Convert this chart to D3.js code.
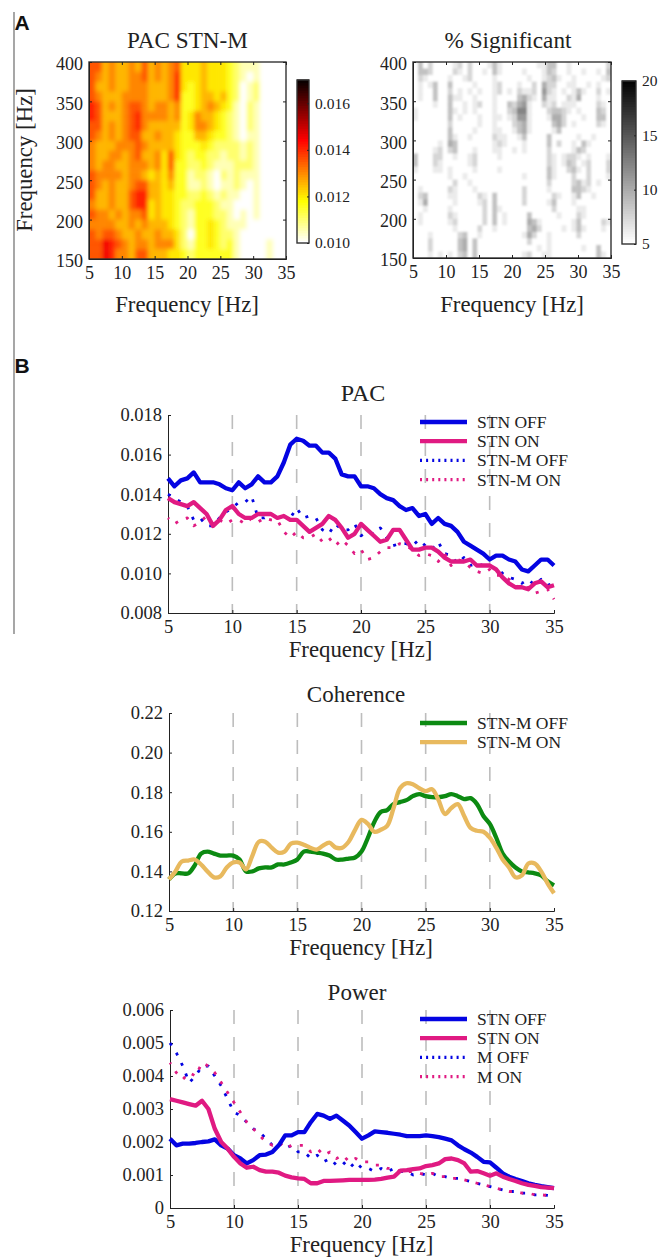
<!DOCTYPE html>
<html lang="en">
<head>
  <meta charset="UTF-8">
  <title>PAC, coherence and power</title>
  <script src="https://d3js.org/d3.v7.min.js"></script>
  <style>
    body { margin: 0; background: #fff; }
    svg { display: block; }
    text { font-family: "Liberation Serif", serif; fill: #222; }
    .panel { font-family: "Liberation Sans", sans-serif; font-weight: bold; font-size: 21px; fill: #111; }
    .tick line, .domain { stroke: #222; }
  </style>
</head>
<body>
  <svg width="659" height="1258"></svg>

  <script>
    // heatmap rows run from 400 Hz down to 150 Hz, one digit per cell
    const pacRows = [
      "775655657565674445444321110000",
      "765655667565684445444321010000",
      "755655666555684345444320120000",
      "765556666555683345545320120000",
      "875656776566563345654310210000",
      "875556786666563465543210210000",
      "775656786555553466543210210000",
      "765656775565543355433210110000",
      "655566676555543334322221210000",
      "655665675564743233221221210000",
      "656655666564733223211122210000",
      "766665665454633122102121110000",
      "765655677554533112101121010000",
      "755655788554433223212110010000",
      "655655788454432233321100010000",
      "766565667454432133322101010000",
      "666655656555432133432111000000",
      "767765565565542033432210000000",
      "779876566566642133432310000100",
      "779866577555443233333310000100"
    ];
    const sigRows = [
      "0302000012020001310000000113300100000002",
      "0332000021020010310000100013200100100103",
      "0210000100120000100000010012310010000012",
      "0101300300001000120001002042200110010100",
      "0100300201010100120102112052101013100201",
      "0100300311001000100003421041100214000100",
      "0000100300101200100324510021201110000210",
      "1000000310101000100236610002332101000320",
      "1000000301000100110125510001442000100330",
      "0000000200000100100023410000342010000210",
      "0000000300001000110013410000130000000000",
      "0000000310010000211001300003000001001000",
      "0000010430000000121000100003020010310000",
      "0000120230001000110010100002000013200000",
      "3000220010012000010000000002101221010001",
      "3000210000012000000000000002101320120002",
      "1000110100001000010000000003100231020002",
      "0000000100100000000000100003100020020001",
      "0000000020010000000000000002000023120100",
      "0100000210001000000000200001000033210000",
      "0230000110000210300000200000210013001000",
      "0140000010000120300000200001300010000000",
      "0010000100000020310000000000200001100000",
      "0100000210000020301000030000010002100000",
      "0100000120000020301000043100000013000021",
      "0000000010000200100000034200001013100010",
      "0001000002300100000000142001000002000000",
      "0002000003403000000000020001000000000000",
      "0002000003403000000000000101000000100300",
      "0001010102303000000000120011000000000310"
    ];

    const pacOff = [.0148,.0144,.0147,.0148,.0151,.0146,.0146,.0146,.0145,.0143,.0142,.0146,.0143,.0145,.0149,.0146,.0146,.0149,.0156,.0165,.0168,.0167,.01645,.01645,.0161,.0161,.0158,.015,.0149,.0149,.0144,.0144,.0143,.014,.0138,.0137,.0134,.0132,.0133,.0129,.013,.0125,.0128,.0125,.0124,.0121,.0116,.0114,.0112,.011,.0107,.0109,.0109,.0107,.0106,.0102,.0101,.0104,.0107,.0107,.0104];
    const pacOn = [.0138,.0136,.0135,.0134,.0136,.0133,.013,.0124,.0127,.0132,.0134,.013,.0128,.0128,.013,.013,.013,.0128,.0129,.0127,.0127,.0124,.0121,.0123,.0125,.0129,.0127,.0123,.0118,.012,.0125,.0122,.0119,.0116,.0117,.0122,.0122,.0117,.0112,.0112,.0113,.0113,.0111,.0108,.0106,.0106,.0106,.0107,.0104,.0104,.0104,.0102,.0098,.0095,.0093,.0093,.0092,.0095,.0096,.0093,.0094];
    const pacMOff = [.014,.0138,.0136,.0134,.0127,.0128,.0124,.0124,.0128,.0131,.0133,.0136,.0136,.0139,.0128,.0128,.013,.0128,.0129,.0128,.0133,.0128,.0129,.0128,.0122,.012,.0125,.0122,.0122,.0125,.0119,.0121,.012,.0123,.0118,.0114,.0115,.0115,.0114,.0117,.0114,.0112,.0116,.011,.0109,.0105,.0108,.0104,.0105,.0104,.0103,.0103,.01,.0098,.0097,.0095,.0097,.0094,.0097,.0094,.0095];
    const pacMOn = [.0128,.0125,.0127,.0128,.0124,.0126,.0129,.0125,.0127,.0125,.0127,.0127,.0125,.0128,.0126,.0128,.0127,.0127,.0121,.0118,.0121,.0118,.0118,.012,.0116,.0118,.0114,.0117,.0114,.011,.0112,.0107,.0108,.0111,.0113,.0113,.0115,.0114,.0112,.0109,.011,.0109,.0106,.011,.0104,.0107,.0106,.0103,.0101,.01,.0102,.0099,.0099,.0097,.0094,.0092,.0093,.009,.0091,.0092,.0087];

    const cohOff = [.136,.139,.139,.139,.143,.149,.15,.149,.148,.148,.148,.146,.14,.14,.1415,.142,.142,.1435,.1435,.1445,.146,.15,.15,.1495,.149,.148,.146,.146,.1465,.147,.15,.157,.165,.17,.171,.174,.175,.176,.178,.179,.178,.1775,.1775,.178,.179,.178,.1765,.177,.174,.168,.164,.157,.149,.145,.142,.14,.1395,.139,.138,.135,.133];
    const cohOn = [.136,.14,.145,.1455,.146,.1435,.14,.137,.1375,.142,.1445,.1445,.141,.148,.155,.155,.152,.1495,.15,.154,.1545,.1535,.152,.151,.153,.1545,.152,.152,.155,.161,.166,.164,.16,.161,.163,.172,.182,.1845,.184,.182,.1805,.1815,.176,.169,.172,.174,.168,.162,.1605,.16,.157,.152,.146,.142,.137,.138,.144,.144,.14,.134,.129];

    const powOff = [.0021,.0019,.00195,.00195,.00197,.002,.00202,.00208,.0019,.0018,.0016,.0015,.00135,.00145,.0016,.00162,.0017,.0019,.0022,.0022,.0023,.0023,.0026,.00285,.0028,.0027,.0028,.00265,.0025,.0023,.0021,.0022,.00232,.0023,.00228,.00225,.00222,.00218,.00218,.00218,.0022,.00218,.00215,.0021,.00205,.0019,.00178,.00168,.00155,.0014,.00138,.00122,.00105,.00095,.00088,.00082,.00075,.0007,.00066,.00063,.0006];
    const powOn = [.0033,.00325,.0032,.00315,.0031,.00325,.003,.0024,.002,.0018,.00155,.00135,.00122,.00125,.00115,.0011,.0011,.00107,.00098,.00093,.0009,.00088,.00075,.00075,.00082,.00082,.00083,.00084,.00085,.00085,.00085,.00085,.00086,.00088,.00092,.00095,.00113,.00115,.00118,.0012,.00127,.0013,.00135,.00148,.0015,.00145,.00135,.0011,.00112,.00105,.00098,.00105,.00095,.00088,.00082,.00075,.0007,.00067,.00063,.00062,.0006];
    const powMOff = [.005,.0047,.0043,.0038,.004,.0043,.0043,.004,.0037,.0033,.0029,.0028,.0026,.0024,.0023,.0021,.0019,.002,.0018,.0019,.0017,.0017,.0015,.0016,.0014,.0015,.0013,.0014,.0012,.0014,.0012,.0012,.0011,.0012,.0011,.0012,.0011,.0011,.001,.00105,.001,.00105,.00095,.00095,.0009,.0009,.00085,.0008,.00075,.0007,.00065,.0006,.00055,.0005,.0005,.00045,.00045,.0004,.0004,.00038,.00035];
    const powMOn = [.0044,.0041,.0039,.0041,.004,.0044,.0043,.0041,.0038,.0035,.0032,.0029,.0026,.0024,.0022,.002,.0019,.002,.0018,.0019,.0019,.0019,.0017,.0018,.0016,.0017,.0015,.0016,.0014,.0015,.0014,.0014,.0013,.0013,.0012,.0012,.0011,.0011,.0011,.00105,.001,.00105,.00095,.00095,.0009,.0009,.00085,.0008,.00075,.0007,.00065,.0006,.00055,.0005,.0005,.00045,.00045,.0004,.0004,.00038,.00035];

    const freq = d3.range(5, 35.5, 0.5);
    const xTicks = [5, 10, 15, 20, 25, 30, 35];
    const yTicksHeat = [150, 200, 250, 300, 350, 400];

    const blue = "#0404e2", pink = "#e01a82", green = "#0c8a12", tan = "#e8b95e";

    const svg = d3.select("svg");
    const defs = svg.append("defs");
    defs.append("filter").attr("id", "soft").append("feGaussianBlur").attr("stdDeviation", 2);
    defs.append("filter").attr("id", "softer").append("feGaussianBlur").attr("stdDeviation", 0.8);

    // reversed "hot" map
    const hot = d3.scaleLinear()
      .domain([0, 0.25, 0.625, 1])
      .range(["#ffffff", "#ffff00", "#ff0000", "#000000"]);
    const gray = d3.scaleLinear().domain([0, 1]).range(["#ffffff", "#000000"]);

    function heatmap(o) {
      const x = d3.scaleLinear().domain([5, 35]).range([o.x0, o.x1]);
      const y = d3.scaleLinear().domain([150, 400]).range([o.y1, o.y0]);
      const nCols = o.rows[0].length, nRows = o.rows.length;
      const colX = d3.scaleBand().domain(d3.range(nCols)).range([o.x0, o.x1]);
      const rowY = d3.scaleBand().domain(d3.range(nRows)).range([o.y0, o.y1]);
      const color = v => o.colors((v - o.cMin) / (o.cMax - o.cMin));

      const id = "clip" + o.x0;
      defs.append("clipPath").attr("id", id).append("rect")
        .attr("x", o.x0).attr("y", o.y0).attr("width", o.x1 - o.x0).attr("height", o.y1 - o.y0);

      const cells = [];
      o.rows.forEach((row, r) => row.split("").forEach((c, i) => cells.push({r, i, v: o.value(+c)})));

      // edge cells run past the frame so the blur does not fade at the border
      const pad = 8;
      svg.append("g").attr("clip-path", `url(#${id})`)
        .append("g").attr("filter", `url(#${o.blur})`)
        .selectAll("rect").data(cells).join("rect")
          .attr("x", d => colX(d.i) - (d.i === 0 ? pad : 0))
          .attr("y", d => rowY(d.r) - (d.r === 0 ? pad : 0))
          .attr("width", d => colX.bandwidth() + 0.5 + (d.i === 0 || d.i === nCols - 1 ? pad : 0))
          .attr("height", d => rowY.bandwidth() + 0.5 + (d.r === 0 || d.r === nRows - 1 ? pad : 0))
          .attr("fill", d => color(d.v));

      svg.append("rect")
        .attr("x", o.x0).attr("y", o.y0).attr("width", o.x1 - o.x0).attr("height", o.y1 - o.y0)
        .attr("fill", "none").attr("stroke", "#333").attr("stroke-width", 1.4);

      svg.append("g").attr("transform", `translate(0,${o.y1})`)
        .call(d3.axisBottom(x).tickValues(xTicks).tickFormat(d3.format("d")).tickSize(-3).tickPadding(7))
        .call(tickText, 18);
      svg.append("g").attr("transform", `translate(0,${o.y0})`)
        .call(d3.axisTop(x).tickValues(xTicks).tickFormat("").tickSize(-3))
        .select(".domain").remove();
      svg.append("g").attr("transform", `translate(${o.x0},0)`)
        .call(d3.axisLeft(y).tickValues(yTicksHeat).tickFormat(d3.format("d")).tickSize(-3).tickPadding(6))
        .call(tickText, 18)
        .selectAll("text").attr("dy", "0.44em");
      svg.append("g").attr("transform", `translate(${o.x1},0)`)
        .call(d3.axisRight(y).tickValues(yTicksHeat).tickFormat("").tickSize(-3))
        .select(".domain").remove();

      // colorbar
      const barY = d3.scaleLinear().domain([o.cMin, o.cMax]).range([o.barY1, o.barY0]);
      const steps = d3.range(64).map(i => o.cMin + (o.cMax - o.cMin) * i / 64);
      svg.append("g").selectAll("rect").data(steps).join("rect")
        .attr("x", o.barX0).attr("width", o.barX1 - o.barX0)
        .attr("y", d => barY(d) - (o.barY1 - o.barY0) / 64 - 0.5)
        .attr("height", (o.barY1 - o.barY0) / 64 + 1)
        .attr("fill", d => color(d));
      svg.append("rect")
        .attr("x", o.barX0).attr("y", o.barY0).attr("width", o.barX1 - o.barX0).attr("height", o.barY1 - o.barY0)
        .attr("fill", "none").attr("stroke", "#333").attr("stroke-width", 1.4);
      svg.append("g").attr("transform", `translate(${o.barX1},0)`)
        .call(d3.axisRight(barY).tickValues(o.cTicks).tickFormat(o.cFormat).tickSize(-2).tickPadding(6))
        .call(tickText, 15.5)
        .select(".domain").remove();

      label(o.title, (o.x0 + o.x1) / 2 + o.titleDx, 48, 23.2);
      label("Frequency [Hz]", o.xLabelX, 312, 22.8);
    }

    function tickText(g, size) {
      g.selectAll("text").style("font-size", size + "px").attr("fill", "#222");
    }

    function label(txt, x, y, size) {
      return svg.append("text").attr("x", x).attr("y", y)
        .attr("text-anchor", "middle").style("font-size", size + "px").text(txt);
    }

    function linePlot(o) {
      const x = d3.scaleLinear().domain([5, 35]).range([o.x0, o.x1]);
      const y = d3.scaleLinear().domain(o.yDomain).range([o.y1, o.y0]);

      svg.append("g").selectAll("line").data(xTicks.slice(1, 6)).join("line")
        .attr("x1", x).attr("x2", x).attr("y1", o.y0).attr("y2", o.y1)
        .attr("stroke", "#bdbdbd").attr("stroke-width", 1.6).attr("stroke-dasharray", "14 13");

      svg.append("g").attr("transform", `translate(0,${o.y1})`)
        .call(d3.axisBottom(x).tickValues(xTicks).tickFormat(d3.format("d")).tickSize(-3).tickPadding(7))
        .call(tickText, 18.5);
      svg.append("g").attr("transform", `translate(${o.x0},0)`)
        .call(d3.axisLeft(y).tickValues(o.yTicks).tickFormat(o.yFormat).tickSize(-3).tickPadding(6))
        .call(tickText, 18.5);

      const line = d3.line().x((d, i) => x(freq[i])).y(d => y(d)).curve(o.curve);
      // dotted series go under the solid ones
      const order = o.series.filter(s => s.dotted).concat(o.series.filter(s => !s.dotted));
      order.forEach((s, i) => {
        const p = svg.append("path").datum(s.values).attr("d", line).attr("fill", "none")
          .attr("stroke", s.color).attr("stroke-linejoin", "round");
        if (s.dotted) p.attr("stroke-width", 2.8).attr("stroke-dasharray", "3 8.5").attr("stroke-dashoffset", i * 1.5);
        else p.attr("stroke-width", 4.3);
      });

      o.series.forEach((s, i) => {
        const ly = o.legendY + i * 19.2;
        const l = svg.append("line").attr("x1", 420).attr("x2", 467).attr("y1", ly).attr("y2", ly)
          .attr("stroke", s.color);
        if (s.dotted) l.attr("stroke-width", 3.2).attr("stroke-dasharray", "2 4.1");
        else l.attr("stroke-width", 4.3);
        svg.append("text").attr("x", 477).attr("y", ly + 6).style("font-size", "17.5px").text(s.name);
      });

      label(o.title, o.titleX, o.titleY, o.titleSize);
      label("Frequency [Hz]", (o.x0 + o.x1) / 2 - 0.5, o.xLabelY, 22.8);
    }

    // the gray rule beside panels A and B
    svg.append("line").attr("x1", 14).attr("x2", 14).attr("y1", 12).attr("y2", 634)
      .attr("stroke", "#777").attr("stroke-width", 1.3);
    svg.append("text").attr("class", "panel").attr("x", 14.5).attr("y", 30).text("A");
    svg.append("text").attr("class", "panel").attr("x", 14.5).attr("y", 373).text("B");

    heatmap({
      rows: pacRows, value: d => 0.010 + d * 0.0005, colors: hot, blur: "soft",
      x0: 89, x1: 286, y0: 62, y1: 259,
      barX0: 297, barX1: 309, barY0: 80, barY1: 243,
      cMin: 0.010, cMax: 0.017, cTicks: [0.010, 0.012, 0.014, 0.016], cFormat: d3.format(".3f"),
      title: "PAC STN-M", titleDx: 0, xLabelX: 187
    });
    heatmap({
      rows: sigRows, value: d => 5 + d * 1.2, colors: gray, blur: "softer",
      x0: 413, x1: 611, y0: 62, y1: 258,
      barX0: 622, barX1: 636, barY0: 81, barY1: 244,
      cMin: 5, cMax: 20, cTicks: [5, 10, 15, 20], cFormat: d3.format("d"),
      title: "% Significant", titleDx: -4, xLabelX: 512
    });
    svg.append("text").attr("transform", "translate(32,160) rotate(-90)")
      .attr("text-anchor", "middle").style("font-size", "22.8px").text("Frequency [Hz]");

    linePlot({
      title: "PAC", titleX: 363, titleY: 401, titleSize: 24, xLabelY: 657,
      x0: 168, x1: 554, y0: 415, y1: 613,
      yDomain: [0.008, 0.018], yTicks: [0.008, 0.010, 0.012, 0.014, 0.016, 0.018], yFormat: d3.format(".3f"),
      curve: d3.curveLinear, legendY: 422,
      series: [
        {name: "STN OFF", color: blue, values: pacOff},
        {name: "STN ON", color: pink, values: pacOn},
        {name: "STN-M OFF", color: blue, dotted: true, values: pacMOff},
        {name: "STN-M ON", color: pink, dotted: true, values: pacMOn}
      ]
    });
    linePlot({
      title: "Coherence", titleX: 356, titleY: 702, titleSize: 23, xLabelY: 955,
      x0: 169, x1: 554, y0: 713, y1: 911,
      yDomain: [0.12, 0.22], yTicks: [0.12, 0.14, 0.16, 0.18, 0.20, 0.22], yFormat: d3.format(".2f"),
      curve: d3.curveCatmullRom, legendY: 723,
      series: [
        {name: "STN-M OFF", color: green, values: cohOff},
        {name: "STN-M ON", color: tan, values: cohOn}
      ]
    });
    linePlot({
      title: "Power", titleX: 357, titleY: 1000, titleSize: 23, xLabelY: 1252,
      x0: 170, x1: 554, y0: 1010, y1: 1208,
      yDomain: [0, 0.006], yTicks: [0, 0.001, 0.002, 0.003, 0.004, 0.005, 0.006],
      yFormat: d => d === 0 ? "0" : d3.format(".3f")(d),
      curve: d3.curveLinear, legendY: 1019,
      series: [
        {name: "STN OFF", color: blue, values: powOff},
        {name: "STN ON", color: pink, values: powOn},
        {name: "M OFF", color: blue, dotted: true, values: powMOff},
        {name: "M ON", color: pink, dotted: true, values: powMOn}
      ]
    });
  </script>
</body>
</html>
